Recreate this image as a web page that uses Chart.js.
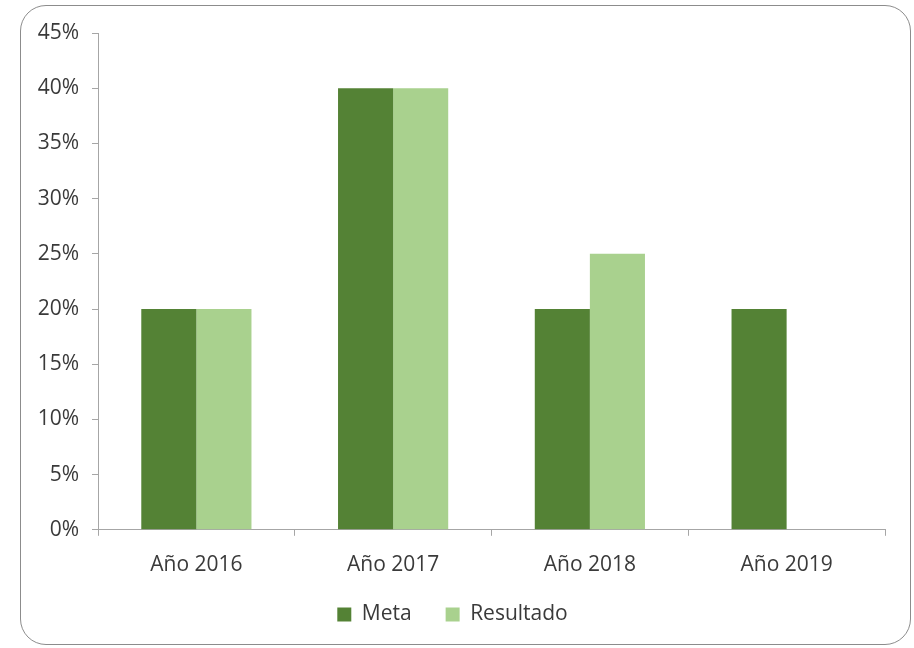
<!DOCTYPE html>
<html>
<head>
<meta charset="utf-8">
<script src="https://cdn.jsdelivr.net/npm/chart.js@4.4.0/dist/chart.umd.min.js"></script>
<style>
  body { margin: 0; background: #fff; }
  #marco {
    position: absolute; left: 20px; top: 5px; width: 889px; height: 638px;
    border: 1px solid #8c8c8c; border-radius: 26px; pointer-events: none;
  }
  #grafico { position: absolute; left: 0; top: 0; }
</style>
</head>
<body>
<canvas id="grafico" width="914" height="648"></canvas>
<div id="marco"></div>
<script>
// Datos
const anios = ['Año 2016', 'Año 2017', 'Año 2018', 'Año 2019'];
const meta = [20, 40, 20, 20];
const resultado = [20, 40, 25, null];
const ticksY = [0, 5, 10, 15, 20, 25, 30, 35, 40, 45];

const fuente = { family: 'Open Sans', size: 21 };

// sube la leyenda: el padding grande separa los elementos pero deja mucho hueco arriba
const subirLeyenda = {
    id: 'subirLeyenda',
    afterLayout(chart) {
        chart.legend.top -= 25;
        chart.legend.bottom -= 25;
    }
};

new Chart(document.getElementById('grafico').getContext('2d'), {
    type: 'bar',
    data: {
        labels: anios,
        datasets: [
            { label: 'Meta', data: meta, backgroundColor: '#548235' },
            { label: 'Resultado', data: resultado, backgroundColor: '#a9d18e' }
        ]
    },
    plugins: [subirLeyenda],
    options: {
        responsive: false,
        animation: false,
        devicePixelRatio: 1,
        layout: { padding: { left: 20, right: 29, top: 33, bottom: -12 } },
        datasets: { bar: { categoryPercentage: 0.56, barPercentage: 1 } },
        plugins: {
            tooltip: { enabled: false },
            legend: {
                position: 'bottom',
                labels: { font: fuente, color: '#3a3a3a', boxWidth: 14, boxHeight: 14, padding: 34 }
            }
        },
        scales: {
            x: {
                grid: { display: true, offset: true, drawOnChartArea: false, drawTicks: true, tickLength: 6, color: '#a6a6a6' },
                border: { color: '#a6a6a6' },
                ticks: { font: fuente, color: '#3a3a3a', padding: 17, maxRotation: 0 }
            },
            y: {
                min: 0, max: 45,
                afterFit: s => { s.width = 78; },
                afterBuildTicks: s => { s.ticks = ticksY.map(v => ({ value: v })); },
                grid: { drawOnChartArea: false, drawTicks: true, tickLength: 6, color: '#a6a6a6' },
                border: { color: '#a6a6a6' },
                ticks: { font: fuente, color: '#3a3a3a', padding: 13, callback: v => v + '%' }
            }
        }
    }
});
</script>
</body>
</html>
